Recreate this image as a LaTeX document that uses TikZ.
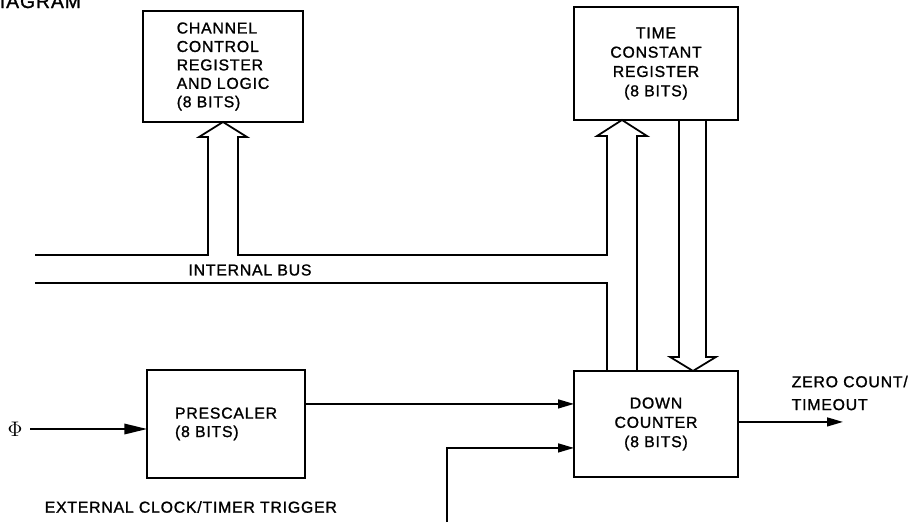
\documentclass[tikz,border=0pt]{standalone}
\usepackage{fontspec}
\setmainfont{Liberation Sans}[LetterSpace=5, FakeBold=1.2]
\usetikzlibrary{arrows.meta, positioning, calc}

\begin{document}
\begin{tikzpicture}[x=0.02cm, y=-0.02cm, line width=1pt,
    font=\fontsize{9}{10.5}\selectfont, >={Triangle[length=9pt, width=5pt]},
    block/.style={draw, rectangle, outer sep=0pt, minimum width=3.28cm, minimum height=2.12cm},
    bigtip/.style={-{Triangle[length=13pt, width=6pt]}}]
    \useasboundingbox (0,0) rectangle (924,522);

    \node (title) [anchor=base west, inner sep=0pt, font=\fontsize{11}{13}\selectfont] at (-1,8) {IAGRAM};

    % registers on top, counters below
    \node (ccr) [block, minimum width=3.2cm, minimum height=2.22cm, align=left] at (223,66.5) {CHANNEL\\CONTROL\\REGISTER\\AND LOGIC\\(8 BITS)};
    \node (tcr) [block, minimum height=2.26cm, align=center, font=\fontsize{9}{11}\selectfont] at (656,63.5) {TIME\\CONSTANT\\REGISTER\\(8 BITS)};
    \node (dc) [block, below=5.02cm of tcr, align=center, font=\fontsize{9}{11}\selectfont] {DOWN\\COUNTER\\(8 BITS)};
    \node (pre) [block, left=5.38cm of dc, minimum width=3.16cm, minimum height=2.16cm, align=left] {PRESCALER\\(8 BITS)};

    \node (phi) [inner sep=1pt, font=\large] at (15,429) {$\Phi$};
    \node (bus) at (250,270) {INTERNAL BUS};
    \node (ext) [anchor=west] at (38,507) {EXTERNAL CLOCK/TIMER TRIGGER};
    \node (zero) [anchor=west, align=left, font=\fontsize{9}{13}\selectfont] at (785,393) {ZERO COUNT/\\TIMEOUT};

    \coordinate (busT) at (35,255);
    \coordinate (busB) at (35,283);
    \coordinate (tcrtip) at ($(tcr.south west)+(48,0)$);
    \coordinate (sL) at ($(tcrtip)+(-15,0)$);
    \coordinate (sR) at ($(tcrtip)+(15,0)$);
    \coordinate (dctip) at ($(dc.north)+(37,0)$);
    \coordinate (dL) at ($(dctip)+(-14,0)$);
    \coordinate (dR) at ($(dctip)+(13,0)$);
    \coordinate (in1) at ($(dc.west)+(0,-20)$);
    \coordinate (in2) at ($(dc.west)+(0,24)$);
    \coordinate (trg) at (447,522);
    \coordinate (out) at ($(dc.east)+(105,-2)$);

    % internal bus with the two hollow arrows
    \draw (busT) -| ($(ccr.south)+(-15,15)$) -- ++(-9,0) -- (ccr.south) -- ++(24,15) -- ++(-9,0)
        |- (sL |- busT) -- ($(sL)+(0,16)$) -- ++(-10,0) -- (tcrtip) -- ++(25,16) -- ++(-10,0)
        -- (sR |- dc.north);
    \draw (busB) -| (sL |- dc.north);
    \draw (dL |- tcr.south) -- ($(dL)+(0,-14)$) -- ++(-9,0) -- (dctip) -- ++(23,-14) -- ++(-10,0) -- (dR |- tcr.south);

    \draw[bigtip, shorten <=3pt] (phi) -- (phi -| pre.west);
    \draw[->] (pre.east |- in1) -- (in1);
    \draw[->] (trg) |- (in2);
    \draw[->] (dc.east |- out) -- (out);
\end{tikzpicture}
\end{document}
